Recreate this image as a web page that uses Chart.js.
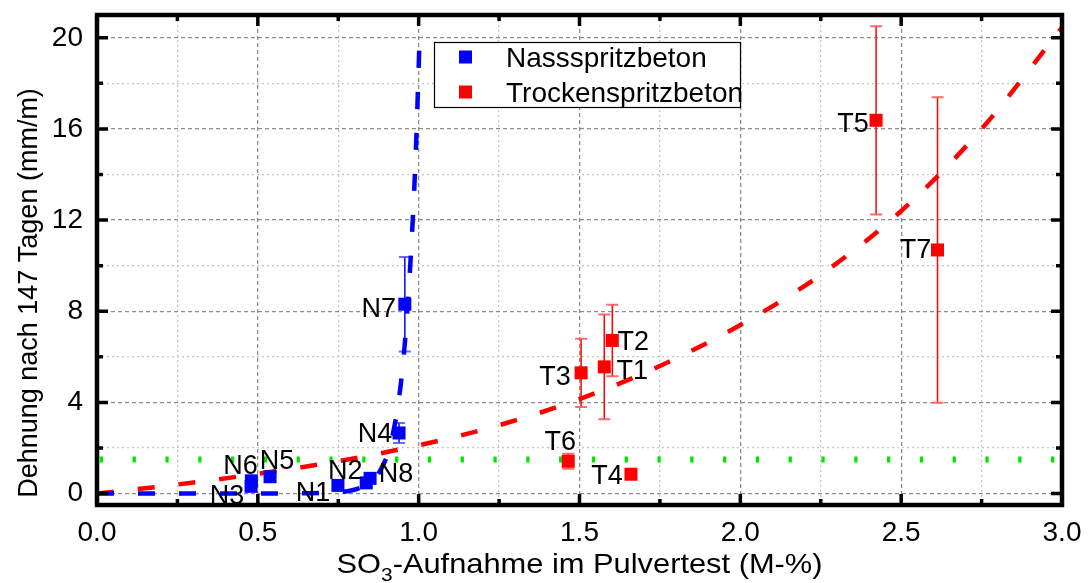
<!DOCTYPE html>
<html>
<head>
<meta charset="utf-8">
<script src="https://cdn.jsdelivr.net/npm/chart.js@4.4.0/dist/chart.umd.min.js"></script>
<style>
  html, body { margin: 0; padding: 0; background: #fff; }
</style>
</head>
<body>
<canvas id="chart_so3" width="1088" height="583"></canvas>
<script>
// Nassspritzbeton (blue)
const nassLabels = ["N1", "N2", "N3", "N4", "N5", "N6", "N7", "N8"];
const nassX = [0.749, 0.837, 0.479, 0.939, 0.538, 0.480, 0.957, 0.849];
const nassY = [0.36, 0.47, 0.32, 2.66, 0.74, 0.56, 8.31, 0.67];
const nassErr = [0, 0, 0, 0.44, 0, 0, 2.07, 0];

// Trockenspritzbeton (red)
const trockLabels = ["T1", "T2", "T3", "T4", "T5", "T6", "T7"];
const trockX = [1.577, 1.602, 1.505, 1.660, 2.422, 1.465, 2.613];
const trockY = [5.56, 6.72, 5.30, 0.85, 16.38, 1.42, 10.69];
const trockErr = [2.30, 1.57, 1.50, 0, 4.13, 0.33, 6.70];

// fit curves
const nassFitX = [0, 0.3, 0.6, 0.7, 0.8, 0.85, 0.88, 0.91, 0.94, 0.96, 0.975, 0.99, 1.004];
const nassFitY = [0, 0, 0.01, 0.03, 0.17, 0.5, 1.0, 2.05, 4.3, 7.1, 10.3, 14.6, 20.45];
const trockFitX = [0, 0.25, 0.5, 0.75, 1.0, 1.25, 1.5, 1.75, 2.0, 2.25, 2.5, 2.75, 3.0];
const trockFitY = [0, 0.4, 0.87, 1.42, 2.12, 3.0, 4.15, 5.6, 7.4, 9.6, 12.4, 16.0, 20.45];

// green limit line
const limitX = [0, 3];
const limitY = [1.5, 1.5];

const FONT = "'Liberation Sans', Arial, sans-serif";
const BLUE = "#0000ff";
const RED = "#ff0000";

// label offsets in px (style only)
const nassLabelOffsets = [[-25, 6], [-21, -14], [-24, 8], [-24, -1], [7, -17], [-11, -17], [-26, 3], [26, -6]];
const trockLabelOffsets = [[28, 2], [21, 0], [-26, 2], [-24, 0], [-23, 2], [-8, -21], [-22, -2]];

function toPoints(xs, ys) {
  return xs.map((x, i) => ({ x: x, y: ys[i] }));
}

function isMajorX(v) {
  return Math.abs(v * 2 - Math.round(v * 2)) < 1e-9;
}
function isMajorY(v) {
  return Math.abs(v % 4) < 1e-9;
}

function drawErrorBars(ctx, sx, sy, xs, ys, errs, color, capColor) {
  xs.forEach((xv, i) => {
    if (!errs[i]) return;
    const px = sx.getPixelForValue(xv);
    const top = sy.getPixelForValue(ys[i] + errs[i]);
    const bot = sy.getPixelForValue(ys[i] - errs[i]);
    ctx.strokeStyle = color;
    ctx.lineWidth = 1.5;
    ctx.beginPath();
    ctx.moveTo(px, top);
    ctx.lineTo(px, bot);
    ctx.stroke();
    ctx.strokeStyle = capColor;
    ctx.lineWidth = 2;
    ctx.beginPath();
    ctx.moveTo(px - 6, top);
    ctx.lineTo(px + 6, top);
    ctx.moveTo(px - 6, bot);
    ctx.lineTo(px + 6, bot);
    ctx.stroke();
  });
}

function drawPointLabels(ctx, sx, sy, xs, ys, names, offsets) {
  ctx.fillStyle = "#000";
  ctx.font = "27px " + FONT;
  ctx.textAlign = "center";
  ctx.textBaseline = "alphabetic";
  names.forEach((n, i) => {
    const px = sx.getPixelForValue(xs[i]) + offsets[i][0];
    const py = sy.getPixelForValue(ys[i]) + offsets[i][1];
    ctx.fillText(n, px, py + 9.7);
  });
}

const decorPlugin = {
  id: "decor",
  beforeDatasetsDraw(chart) {
    const { ctx } = chart;
    const sx = chart.scales.x, sy = chart.scales.y;
    ctx.save();
    drawErrorBars(ctx, sx, sy, nassX, nassY, nassErr, BLUE, "rgba(70,70,255,0.8)");
    drawErrorBars(ctx, sx, sy, trockX, trockY, trockErr, RED, "rgba(255,90,90,0.9)");
    ctx.restore();
  },
  afterDatasetsDraw(chart) {
    const { ctx, chartArea: a } = chart;
    const sx = chart.scales.x, sy = chart.scales.y;
    ctx.save();
    drawPointLabels(ctx, sx, sy, nassX, nassY, nassLabels, nassLabelOffsets);
    drawPointLabels(ctx, sx, sy, trockX, trockY, trockLabels, trockLabelOffsets);

    // inward ticks on all four sides
    ctx.strokeStyle = "#000";
    ctx.lineWidth = 3.5;
    ctx.beginPath();
    sx.ticks.forEach((t) => {
      const p = sx.getPixelForValue(t.value);
      const len = isMajorX(t.value) ? 11 : 6;
      ctx.moveTo(p, a.bottom);
      ctx.lineTo(p, a.bottom - len);
      ctx.moveTo(p, a.top);
      ctx.lineTo(p, a.top + len);
    });
    sy.ticks.forEach((t) => {
      const p = sy.getPixelForValue(t.value);
      const len = isMajorY(t.value) ? 11 : 6;
      ctx.moveTo(a.left, p);
      ctx.lineTo(a.left + len, p);
      ctx.moveTo(a.right, p);
      ctx.lineTo(a.right - len, p);
    });
    ctx.stroke();

    // frame
    ctx.lineWidth = 4.5;
    ctx.strokeRect(a.left, a.top, a.right - a.left, a.bottom - a.top);
    ctx.restore();
  },
  afterDraw(chart) {
    const { ctx, chartArea: a } = chart;
    ctx.save();

    // legend
    const lx = 434, ly = 42, lw = 307, lh = 66;
    ctx.fillStyle = "#fff";
    ctx.fillRect(lx, ly, lw, lh);
    ctx.strokeStyle = "#000";
    ctx.lineWidth = 1.2;
    ctx.strokeRect(lx + 0.5, ly + 0.5, lw - 1, lh - 1);
    const items = [chart.data.datasets[0], chart.data.datasets[1]];
    ctx.font = "28px " + FONT;
    ctx.textAlign = "left";
    ctx.textBaseline = "alphabetic";
    items.forEach((ds, i) => {
      const cy = ly + 15 + i * 35;
      ctx.fillStyle = ds.backgroundColor;
      ctx.fillRect(lx + 25, cy - 6.5, 13, 13);
      ctx.fillStyle = "#000";
      ctx.fillText(ds.label, lx + 72, cy + 10);
    });

    // y title
    ctx.save();
    ctx.translate(37, 293);
    ctx.rotate(-Math.PI / 2);
    ctx.font = "27px " + FONT;
    ctx.textAlign = "center";
    ctx.textBaseline = "alphabetic";
    ctx.fillStyle = "#000";
    ctx.fillText("Dehnung nach 147 Tagen (mm/m)", 0, 0);
    ctx.restore();

    // x title with subscript
    const part1 = "SO", sub = "3", part2 = "-Aufnahme im Pulvertest (M-%)";
    const mainFont = "28px " + FONT, subFont = "19px " + FONT;
    ctx.font = mainFont;
    const w1 = ctx.measureText(part1).width;
    const w3 = ctx.measureText(part2).width;
    ctx.font = subFont;
    const w2 = ctx.measureText(sub).width;
    const total = w1 + w2 + w3;
    const targetW = 486;
    const sxScale = targetW / total;
    const cx = (a.left + a.right) / 2;
    const base = 573;
    ctx.save();
    ctx.translate(cx - targetW / 2, base);
    ctx.scale(sxScale, 1);
    ctx.fillStyle = "#000";
    ctx.textAlign = "left";
    ctx.font = mainFont;
    ctx.fillText(part1, 0, 0);
    ctx.font = subFont;
    ctx.fillText(sub, w1, 8);
    ctx.font = mainFont;
    ctx.fillText(part2, w1 + w2, 0);
    ctx.restore();

    ctx.restore();
  }
};

const gridColor = (major) => (major ? "#8c8c8c" : "#c4c4c4");

const ctx = document.getElementById("chart_so3").getContext("2d");
const myChart = new Chart(ctx, {
  type: "scatter",
  data: {
    datasets: [
      {
        label: "Nassspritzbeton",
        data: toPoints(nassX, nassY),
        backgroundColor: BLUE,
        borderColor: BLUE,
        borderWidth: 0,
        pointStyle: "rect",
        pointRadius: 9.2,
      },
      {
        label: "Trockenspritzbeton",
        data: toPoints(trockX, trockY),
        backgroundColor: RED,
        borderColor: RED,
        borderWidth: 0,
        pointStyle: "rect",
        pointRadius: 9.2,
      },
      {
        type: "line",
        label: "Fit Nass",
        data: toPoints(nassFitX, nassFitY),
        borderColor: BLUE,
        borderWidth: 4.5,
        borderDash: [17, 24],
        borderCapStyle: "butt",
        pointRadius: 0,
        cubicInterpolationMode: "monotone",
        fill: false,
      },
      {
        type: "line",
        label: "Fit Trocken",
        data: toPoints(trockFitX, trockFitY),
        borderColor: RED,
        borderWidth: 4.5,
        borderDash: [17, 24],
        borderCapStyle: "butt",
        pointRadius: 0,
        cubicInterpolationMode: "monotone",
        fill: false,
      },
      {
        type: "line",
        label: "Grenzwert",
        data: toPoints(limitX, limitY),
        borderColor: "#00e600",
        borderWidth: 6,
        borderDash: [3.3, 29.5],
        borderDashOffset: -2.8,
        borderCapStyle: "butt",
        pointRadius: 0,
        fill: false,
      },
    ],
  },
  options: {
    responsive: false,
    animation: false,
    events: [],
    layout: {
      padding: { top: 15, right: 26, left: 0, bottom: 0 },
    },
    plugins: {
      legend: { display: false },
      tooltip: { enabled: false },
    },
    scales: {
      x: {
        type: "linear",
        min: 0,
        max: 3,
        ticks: {
          stepSize: 0.25,
          autoSkip: false,
          maxRotation: 0,
          padding: 11,
          color: "#000",
          font: { family: FONT, size: 28 },
          callback: (v) => (isMajorX(v) ? v.toFixed(1) : ""),
        },
        grid: {
          drawTicks: false,
          lineWidth: 1.3,
          color: (c) => gridColor(isMajorX(c.tick.value)),
        },
        border: {
          display: false,
          dash: (c) => (c.tick && isMajorX(c.tick.value) ? [4, 3] : [2, 3]),
        },
        afterFit: (scale) => {
          scale.height = 78;
          scale.paddingLeft = 0;
          scale.paddingRight = 0;
        },
      },
      y: {
        type: "linear",
        min: -0.5,
        max: 21,
        ticks: {
          stepSize: 2,
          includeBounds: false,
          autoSkip: false,
          padding: 14,
          color: "#000",
          font: { family: FONT, size: 28 },
          callback: (v) => (isMajorY(v) ? String(v) : ""),
        },
        grid: {
          drawTicks: false,
          lineWidth: 1.3,
          color: (c) => gridColor(isMajorY(c.tick.value)),
        },
        border: {
          display: false,
          dash: (c) => (c.tick && isMajorY(c.tick.value) ? [4, 3] : [2, 3]),
        },
        afterFit: (scale) => {
          scale.width = 97;
          scale.paddingTop = 0;
          scale.paddingBottom = 0;
        },
      },
    },
  },
  plugins: [decorPlugin],
});
</script>
</body>
</html>
